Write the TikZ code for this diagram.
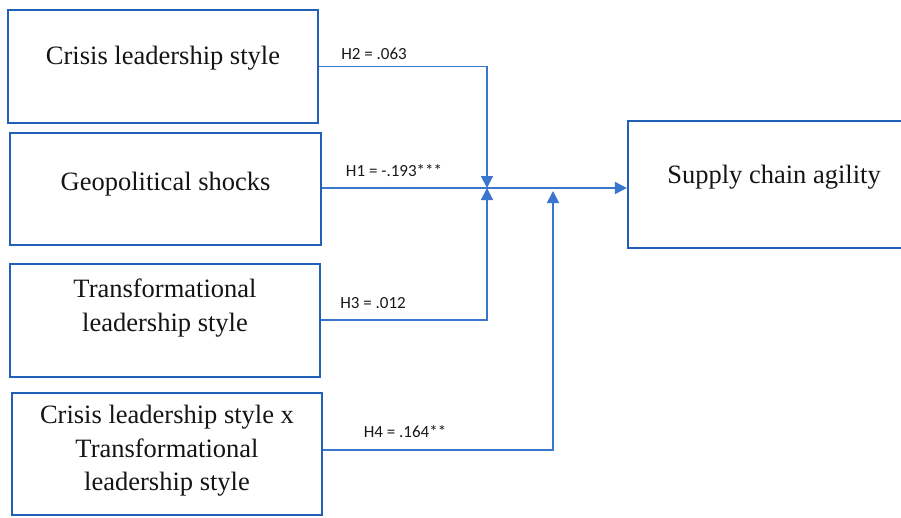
\documentclass[tikz,border=0pt]{standalone}
\usepackage{fontspec}
\setmainfont{Liberation Serif}
\newfontfamily\lblfont{Carlito}
\usetikzlibrary{arrows.meta,calc}
\definecolor{boxcol}{RGB}{32,96,184}
\definecolor{linecol}{RGB}{58,118,206}
\tikzset{
  varbox/.style={draw=boxcol, line width=2.2pt, rectangle, inner sep=0pt},
  vartext/.style={font=\fontsize{26.5}{33.5}\selectfont, align=center, inner sep=0pt, text=black!92},
  hlabel/.style={font=\lblfont\fontsize{17}{19}\selectfont, inner sep=0pt, text=black!90},
  conn/.style={draw=linecol, line width=1.8pt},
  arr/.style={conn, -{Triangle[length=12pt,width=12pt]}}
}
\begin{document}
\begin{tikzpicture}[x=1pt,y=-1pt]
\useasboundingbox (0,0) rectangle (901,517);
\clip (0,0) rectangle (901,517);
% boxes
\node[varbox, minimum width=310pt, minimum height=113pt] (b1) at (163,66.5) {};
\node[varbox, minimum width=311pt, minimum height=112pt] (b2) at (165.5,189) {};
\node[varbox, minimum width=310pt, minimum height=113pt] (b3) at (165,320.5) {};
\node[varbox, minimum width=310pt, minimum height=122pt] (b4) at (167,454) {};
\node[varbox, minimum width=300pt, minimum height=127pt] (b5) at (778,184.5) {};
% texts
\node[vartext] (t1) at (163,58) {Crisis leadership style};
\node[vartext] (t2) at (165.5,184) {Geopolitical shocks};
\node[vartext] (t3) at (165,308) {Transformational\\leadership style};
\node[vartext] (t4) at (167,451) {Crisis leadership style x\\Transformational\\leadership style};
\node[vartext] (t5) at (774,177) {Supply chain agility};
% junction points
\coordinate (j1) at (487,188);
\coordinate (j2) at (553,191);
% connectors
\draw[arr] (b1.east) -| (j1);
\draw[arr] (b3.east |- 0,320) -| (j1);
\draw[arr] (b2.east |- j1) -- (b5.west |- j1);
\draw[arr] (b4.east |- 0,450) -| (j2);
% labels
\node[hlabel] (l2) at (374,54) {H2 = .063};
\node[hlabel] (l1) at (394,171) {H1 = -.193***};
\node[hlabel] (l3) at (373,303) {H3 = .012};
\node[hlabel] (l4) at (405,432) {H4 = .164**};
\end{tikzpicture}
\end{document}
